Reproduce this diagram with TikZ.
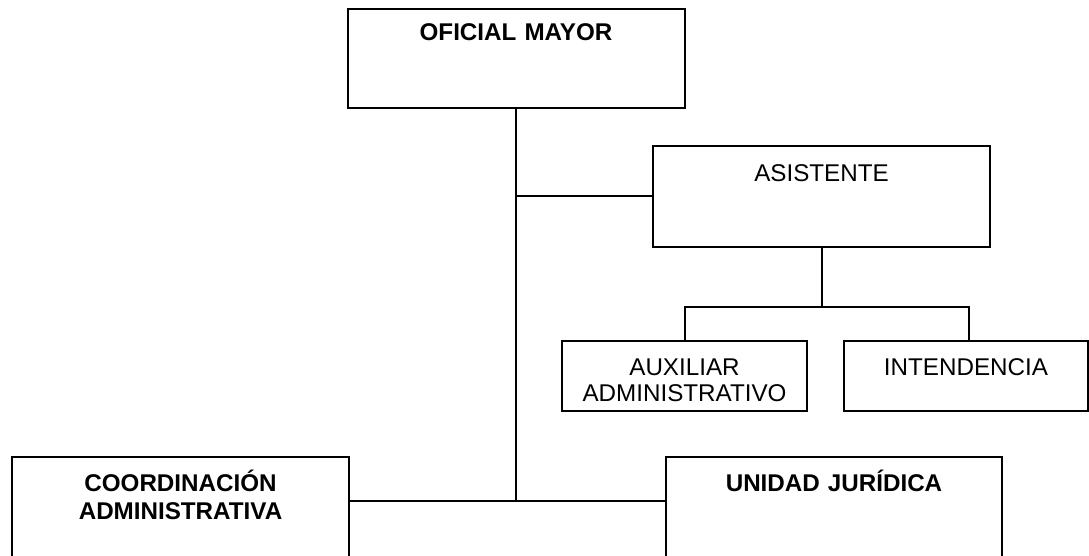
\documentclass[tikz,border=0pt]{standalone}
\usepackage{fontspec}
\setmainfont{Liberation Sans}
\begin{document}
\begin{tikzpicture}[x=1pt,y=-1pt,
  box/.style={draw, line width=2pt, rectangle, inner sep=0pt},
  lbl/.style={anchor=base, align=center, text width=#1, inner sep=0pt,
    font=\fontsize{24.2}{26.5}\selectfont},
  lbl/.default=320pt,
  bold/.style={font=\fontsize{24.2}{28}\selectfont\bfseries},
  conn/.style={line width=2pt}]
\useasboundingbox (0,0) rectangle (1089,556);
\clip (0,0) rectangle (1089,556);
% boxes
\node[box, minimum width=337pt, minimum height=99pt] (OM) at (516,58.5) {};
\node[box, minimum width=337pt, minimum height=101pt] (AS) at (821.5,196.5) {};
\node[box, minimum width=245pt, minimum height=70pt] (AUX) at (684.5,376) {};
\node[box, minimum width=244pt, minimum height=70pt] (INT) at (966,376) {};
\node[box, minimum width=337pt, minimum height=120pt] (CA) at (180.5,517) {};
\node[box, minimum width=336pt, minimum height=120pt] (UJ) at (834,517) {};
% texts
\node[lbl, bold] (tOM) at (516,40.6) {OFICIAL MAYOR};
\node[lbl] (tAS) at (821.5,181.2) {ASISTENTE};
\node[lbl=240pt] (tAUX) at (684.5,375.2) {AUXILIAR\\ADMINISTRATIVO};
\node[lbl=240pt] (tINT) at (966,375.2) {INTENDENCIA};
\node[lbl, bold] (tCA) at (180.5,491.6) {COORDINACIÓN\\ADMINISTRATIVA};
\node[lbl, bold] (tUJ) at (834,491.6) {UNIDAD JURÍDICA};
% connectors
\coordinate (j) at (516,500.7);
\coordinate (bus) at (821.5,307);
\draw[conn] (OM.south) -- (j);
\draw[conn] (OM.south |- AS.west) -- (AS.west);
\draw[conn] (CA.east |- j) -- (UJ.west |- j);
\draw[conn] (AS.south) -- (bus);
\draw[conn] (AUX.north) |- (bus) -| ([xshift=3pt]INT.north);
\end{tikzpicture}
\end{document}
